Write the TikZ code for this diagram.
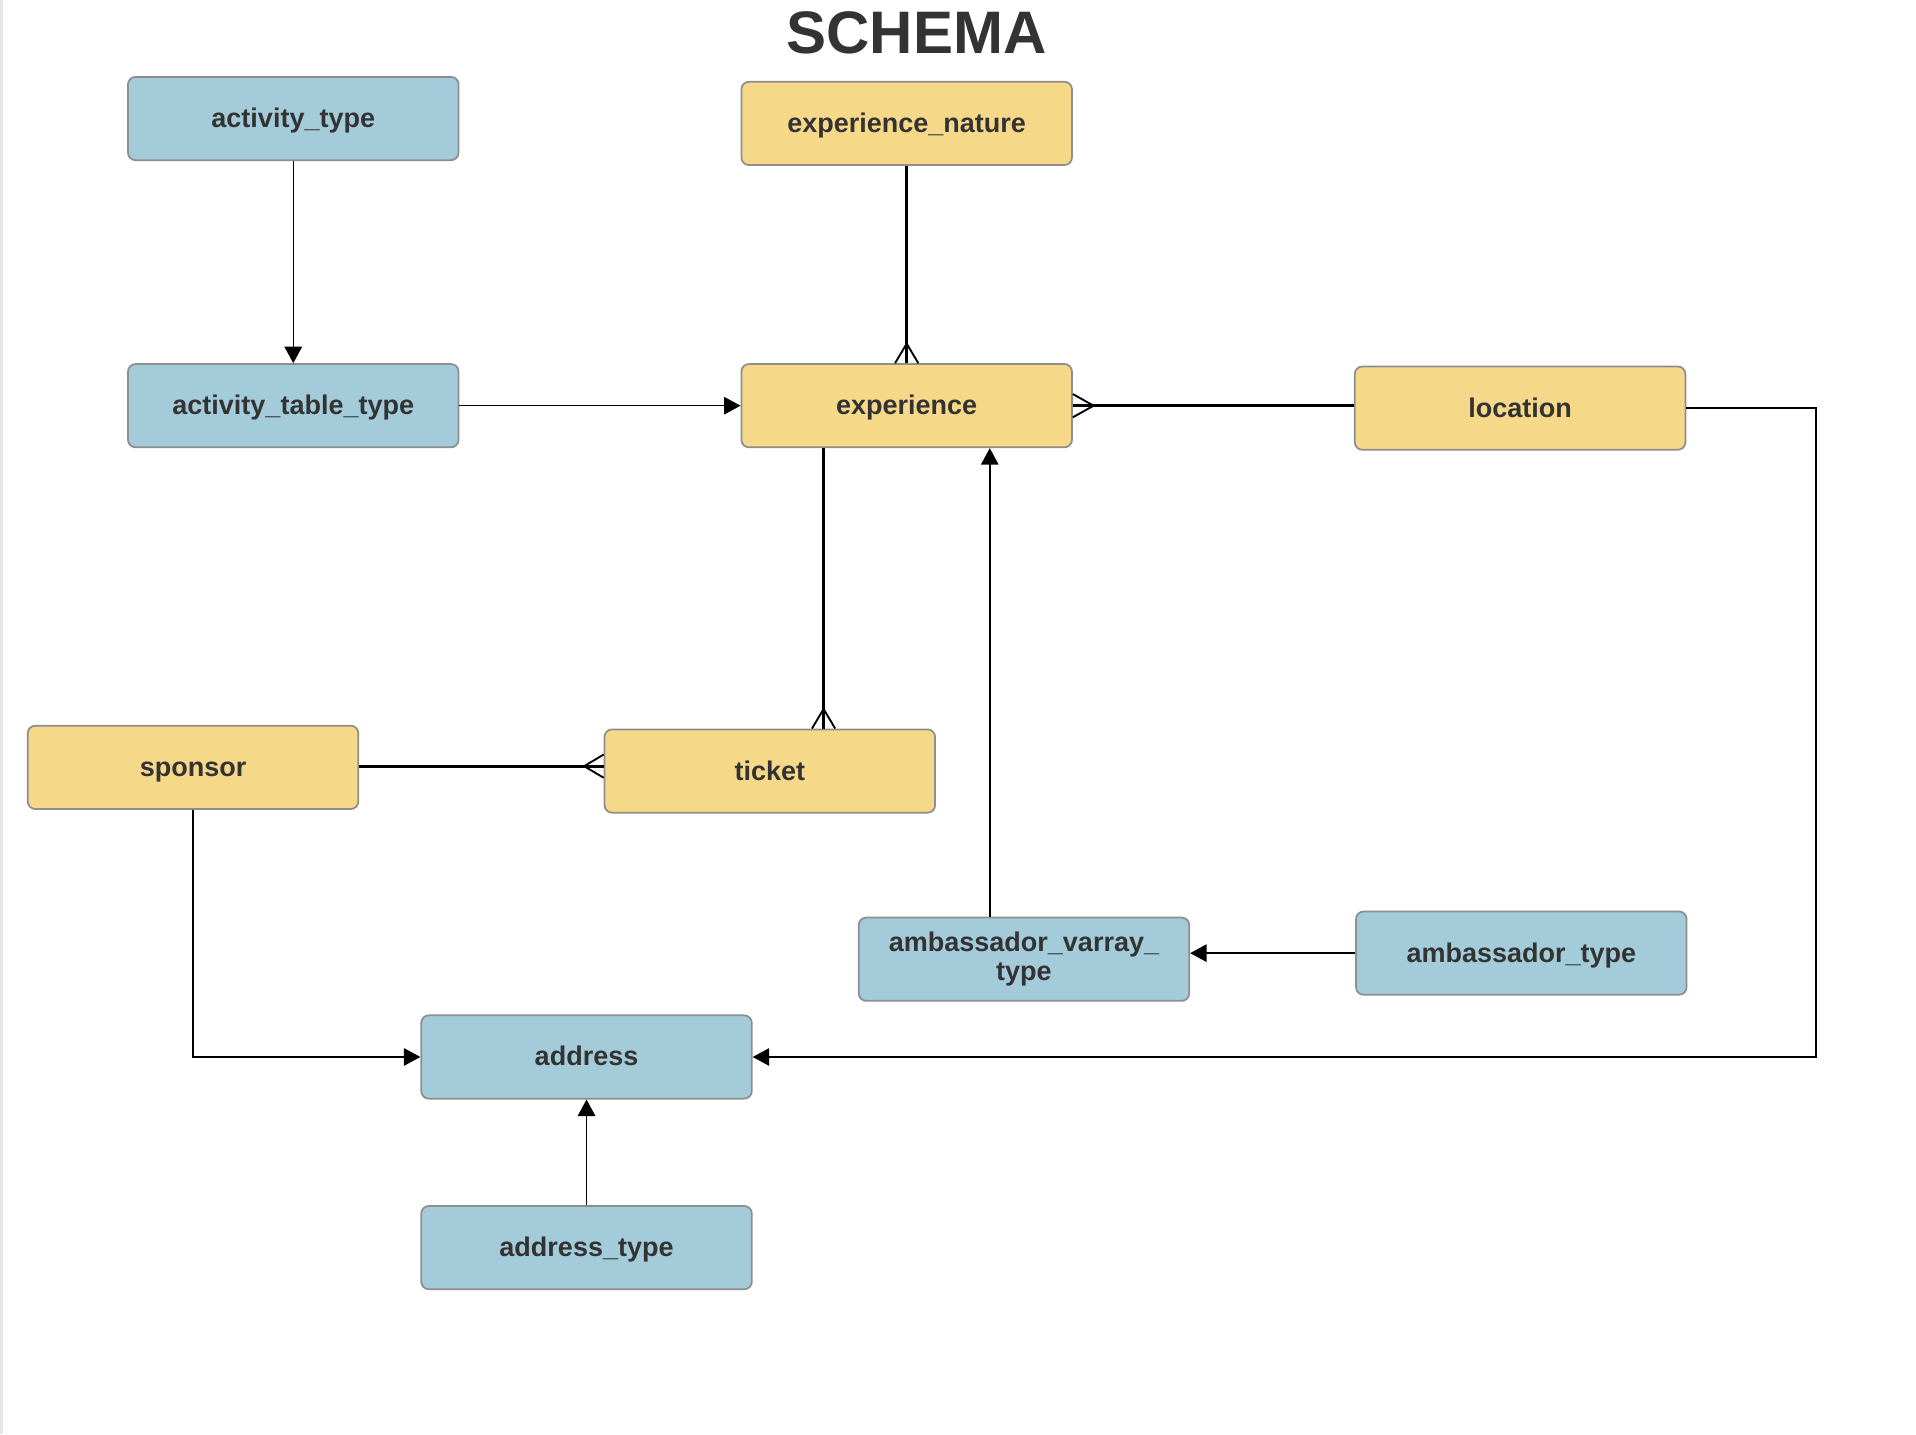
\documentclass[tikz,border=0pt]{standalone}
\usepackage{fontspec}
\setmainfont{Liberation Sans}
\usetikzlibrary{arrows.meta,calc}
\definecolor{ylw}{HTML}{F5D988}
\definecolor{blu}{HTML}{A3CBD9}
\definecolor{bord}{HTML}{8E8E8E}
\definecolor{txt}{HTML}{333333}
\definecolor{strip}{HTML}{E6E6E9}
\newcommand\myCrow[5]{\draw[crowline] ($(#1)+(#2,#3)$) -- ($(#1)+(#4,#5)$) ($(#1)+(#2,#3)$) -- ($(#1)-(#4,#5)$);}
\begin{document}
\begin{tikzpicture}[x=0.4887pt,y=-0.4887pt,
  entitybase/.style={draw=bord,line width=0.7pt,rounded corners=3pt,minimum width=132.2pt,minimum height=33.3pt,
    inner sep=2pt,align=center,font=\fontsize{10.8}{11.8}\selectfont\bfseries,text=txt},
  entity/.style={entitybase,text height=0.92em,text depth=0.2em},
  yel/.style={entity,fill=ylw},
  blue/.style={entity,fill=blu},
  blue2/.style={entitybase,fill=blu},
  thin/.style={line width=0.6pt,-{Triangle[length=6.6pt,width=7pt]}},
  thickline/.style={line width=1.3pt},
  crowline/.style={line width=0.75pt}]
\useasboundingbox (0,0) rectangle (1568,1173.6);
\fill[strip] (0,0) rectangle (2.8,1173.6);
\node[font=\fontsize{24}{26}\selectfont\bfseries,text=txt] (title) at (750,27) {SCHEMA};
\node[blue] (at) at (240,97) {activity\_type};
\node[yel] (en) at (742,101) {experience\_nature};
\node[blue] (att) at (240,332) {activity\_table\_type};
\node[yel] (exp) at (742,332) {experience};
\node[yel] (loc) at (1244,334) {location};
\node[yel] (sp) at (158,628) {sponsor};
\node[yel] (tk) at (630,631) {ticket};
\node[blue2] (avt) at (838,785) {ambassador\_varray\_\\type};
\node[blue] (ambt) at (1245,780) {ambassador\_type};
\node[blue] (addr) at (480,865) {address};
\node[blue] (addrt) at (480,1021) {address\_type};
% helper coordinates
\coordinate (eS1) at ($(exp.south)+(-68,0)$);
\coordinate (tkN) at (eS1 |- tk.north);
\coordinate (eS2) at ($(exp.south)+(68,0)$);
\coordinate (avtN) at (eS2 |- avt.north);
\coordinate (locE) at (exp.east -| loc.west);
\coordinate (tkW) at ($(sp.east -| tk.west)+(0,-1)$);
\coordinate (spE) at ($(sp.east)+(0,-1)$);
\coordinate (avtE) at (ambt.west -| avt.east);
\coordinate (rt) at ($(loc.east)+(106,0)$);
% thin arrows
\draw[thin] (at.south) -- (att.north);
\draw[thin] (att.east) -- (exp.west);
\draw[thin] (avtN) -- (eS2);
\draw[thin] (ambt.west) -- (avtE);
\draw[thin] (sp.south) |- (addr.west);
\draw[thin] (loc.east) -- (rt) |- (addr.east);
\draw[thin] (addrt.north) -- (addr.south);
% thick relationships with crow's feet
\draw[thickline] (en.south) -- (exp.north);
\myCrow{exp.north}{0}{-16}{9.5}{0}
\draw[thickline] (locE) -- (exp.east);
\myCrow{exp.east}{17}{0}{0}{9.5}
\draw[thickline] (eS1) -- (tkN);
\myCrow{tkN}{0}{-16}{9.5}{0}
\draw[thickline] (spE) -- (tkW);
\myCrow{tkW}{-16}{0}{0}{9.5}
\end{tikzpicture}
\end{document}
